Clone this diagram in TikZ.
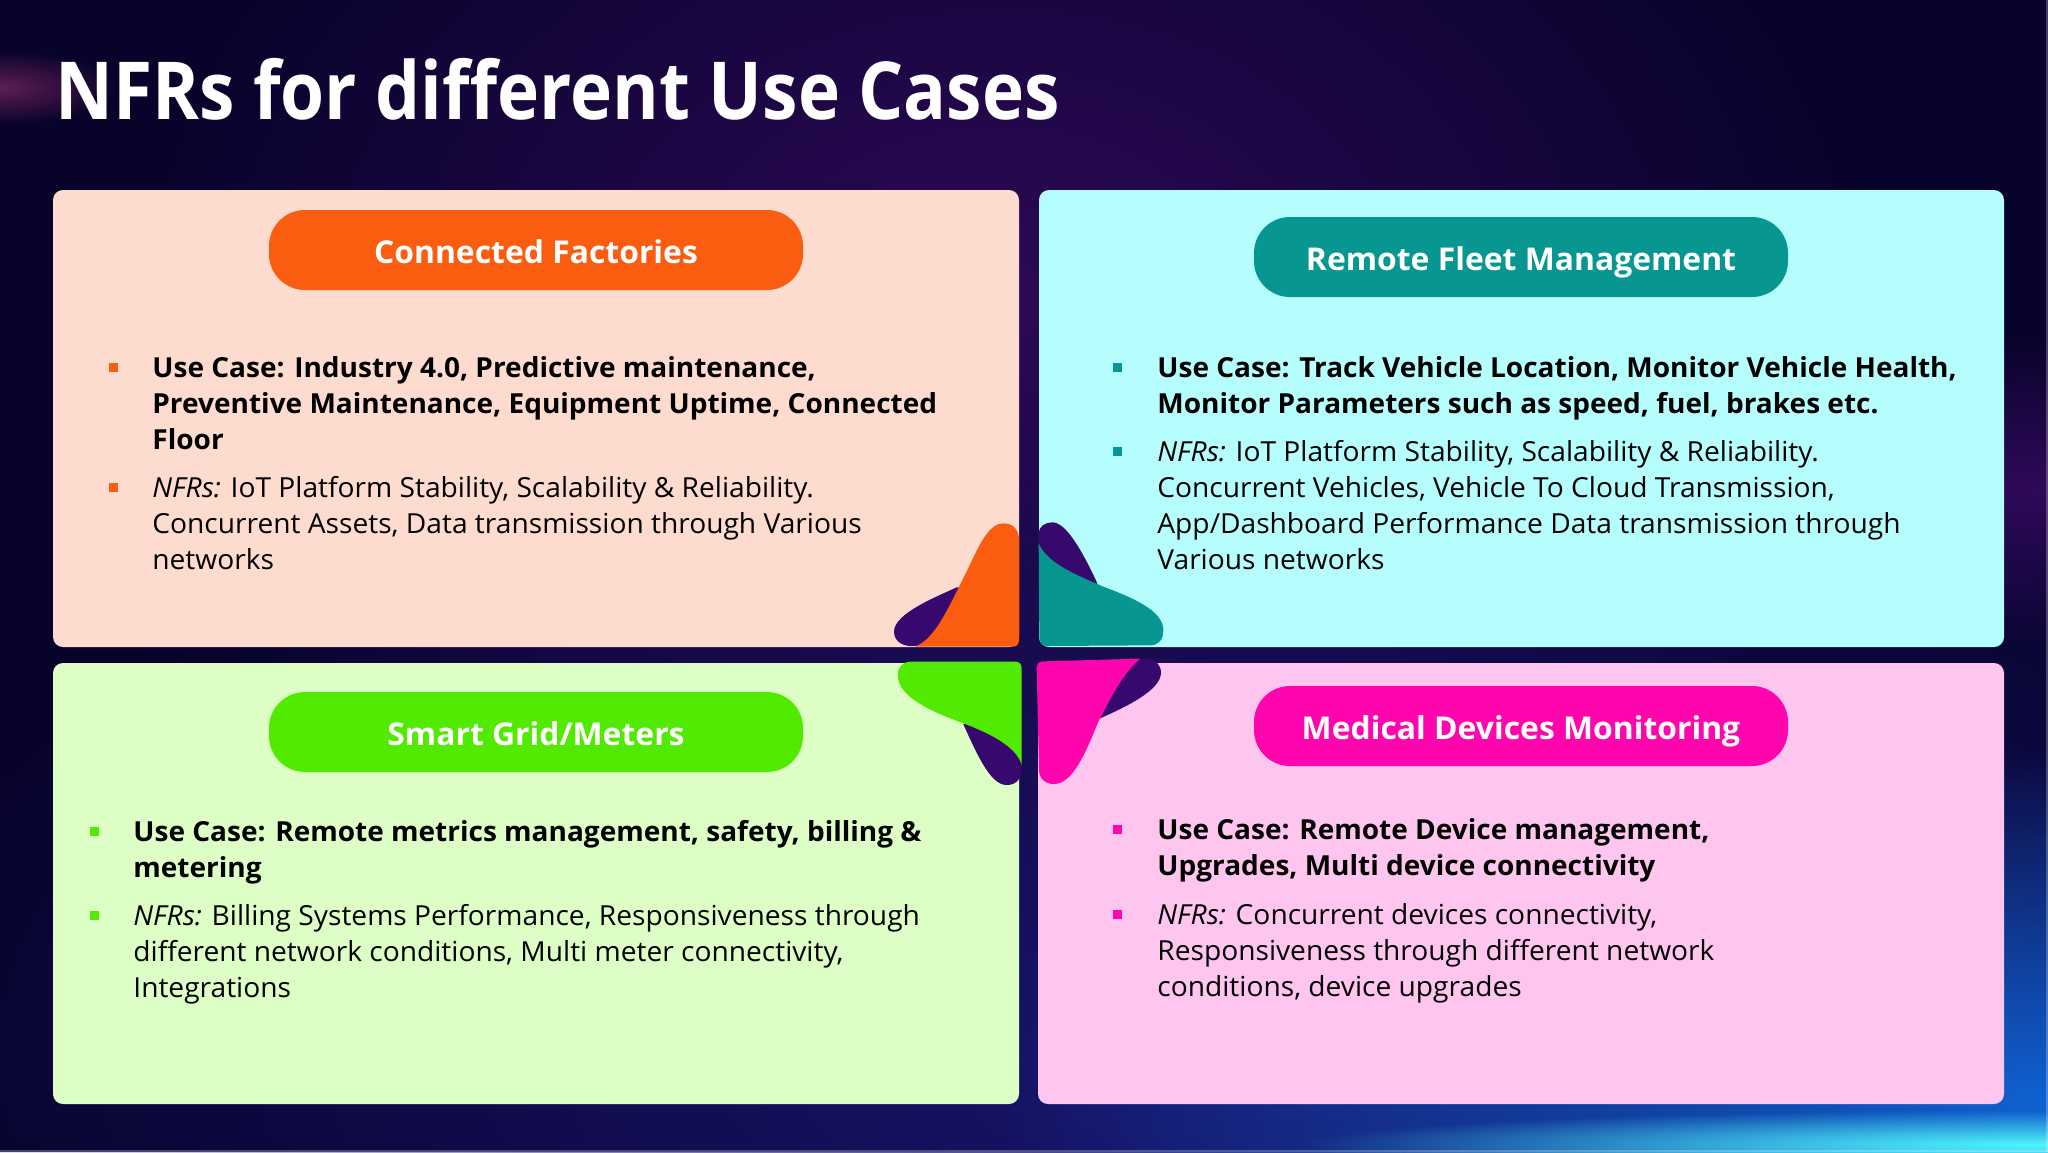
\documentclass[tikz,border=0pt]{standalone}
\usepackage{fontspec}
\usepackage{xcolor}
\usepackage{tikz}
\usetikzlibrary{fadings}
\setmainfont[FakeStretch=1.02,BoldFeatures={FakeStretch=1.015}]{Open Sans}
\newfontfamily\titlefont[FakeStretch=0.89]{Open Sans}
\definecolor{navy}{HTML}{07032A}
\definecolor{midnavy}{HTML}{1A1670}
\definecolor{lowblue}{HTML}{0F62D2}
\definecolor{glowcyan}{HTML}{50F8FF}
\definecolor{haze}{HTML}{3A0C66}
\definecolor{blob}{HTML}{37096F}
\definecolor{factory}{HTML}{FA5C10}
\definecolor{factorybg}{HTML}{FDDCCF}
\definecolor{fleet}{HTML}{089690}
\definecolor{fleetbg}{HTML}{B6FEFD}
\definecolor{grid}{HTML}{52EA00}
\definecolor{gridbg}{HTML}{DDFFC6}
\definecolor{medical}{HTML}{FF05AE}
\definecolor{medicalbg}{HTML}{FEC6EE}
\tikzfading[name=glow, inner color=transparent!0, outer color=transparent!100]
\tikzset{
  panel/.style={rectangle, anchor=north west, rounded corners=5pt, inner sep=0, outer sep=0},
  pill/.style={rectangle, rounded corners=18pt, minimum width=267pt, minimum height=40pt, inner sep=0,
    text height=13pt, text depth=0pt, text=white, font=\fontsize{15.7}{20}\selectfont\bfseries},
  dot/.style={rectangle, minimum size=4.5pt, inner sep=0},
  para/.style={anchor=north west, inner sep=0, align=left, text=black,
    font=\fontsize{13.8}{18}\selectfont}
}
\begin{document}
\begin{tikzpicture}[x=0.5pt,y=-0.5pt]
    \useasboundingbox (0,0) rectangle (2048,1152);
    % background
    \fill[navy] (0,0) rectangle (2048,1152);
    \fill[haze, path fading=glow, opacity=0.75] (100,-350) rectangle (1900,950);
    \fill[midnavy, path fading=glow] (-200,400) rectangle (2700,1700);
    \fill[haze, path fading=glow, opacity=0.8] (1500,330) rectangle (2600,650);
    \fill[lowblue, path fading=glow] (1000,750) rectangle (3100,1450);
    \fill[glowcyan, path fading=glow] (1300,1110) rectangle (2800,1180);
    \fill[magenta!70!black, path fading=glow, opacity=0.5] (-120,50) rectangle (120,125);
    \fill[white, opacity=0.25] (0,1150) rectangle (2048,1152);
    \fill[white, opacity=0.25] (2046,0) rectangle (2048,1152);
    \node[anchor=base west, inner sep=0, text=white, font=\fontsize{40}{48}\selectfont\titlefont\bfseries] (title) at (55,119.5) {NFRs for different Use Cases};
    % panels
    \node[panel, fill=factorybg, minimum width=483pt, minimum height=228.5pt] (factories) at (53,190) {};
    \node[panel, fill=fleetbg, minimum width=482.5pt, minimum height=228.5pt] (fleetbox) at (1039,190) {};
    \node[panel, fill=gridbg, minimum width=483pt, minimum height=220.5pt] (meters) at (53,663) {};
    \node[panel, fill=medicalbg, minimum width=483pt, minimum height=220.5pt] (devices) at (1038,663) {};
    % blobs
    \begin{scope}[shift={(850,490)},x=0.16667pt,y=-0.16667pt]
    \fill[blob] (320,292) .. controls (260,320) and (132,370) .. (132,425) .. controls (132,455) and (160,470) .. (190,468) -- (300,460) -- (400,300) -- cycle;
    \fill[factory] (195,470) .. controls (260,445) and (300,340) .. (350,245) .. controls (385,170) and (415,100) .. (460,100) .. controls (490,100) and (507,120) .. (507,150) -- (507,450) .. controls (507,462) and (500,470) .. (490,470) -- cycle;
    \fill[blob] (566,130) .. controls (566,110) and (585,97) .. (607,97) .. controls (650,97) and (700,190) .. (742,280) -- (700,320) -- (600,300) -- (566,170) -- cycle;
    \fill[fleet] (566,160) .. controls (590,220) and (680,255) .. (760,290) .. controls (840,320) and (940,360) .. (940,420) .. controls (940,450) and (925,466) .. (900,466) -- (590,468) .. controls (575,468) and (568,455) .. (568,440) -- cycle;
    \fill[blob] (340,703) .. controls (380,790) and (420,885) .. (470,885) .. controls (500,885) and (515,865) .. (515,835) -- (515,820) -- (500,700) -- (400,680) -- cycle;
    \fill[grid] (143,555) .. controls (143,530) and (160,515) .. (180,515) -- (495,515) .. controls (508,515) and (515,522) .. (515,535) -- (515,825) .. controls (500,770) and (420,730) .. (340,700) .. controls (260,670) and (143,625) .. (143,555) -- cycle;
    \fill[blob] (870,506) -- (890,505) .. controls (915,505) and (933,525) .. (933,548) .. controls (933,600) and (830,650) .. (750,685) -- (700,600) -- (780,515) -- cycle;
    \fill[medical] (560,535) .. controls (560,522) and (567,514) .. (580,514) -- (870,506) .. controls (810,560) and (780,630) .. (745,695) .. controls (710,780) and (670,882) .. (612,882) .. controls (585,882) and (567,865) .. (567,840) -- cycle;
    \end{scope}
    % pills
    \node[pill, fill=factory] (factorypill) at (536,250) {Connected Factories};
    \node[pill, fill=fleet] (fleetpill) at (1521,257) {Remote Fleet Management};
    \node[pill, fill=grid] (gridpill) at (536,732) {Smart Grid/Meters};
    \node[pill, fill=medical] (medicalpill) at (1521,726) {Medical Devices Monitoring};
    % top left text
    \node[dot, fill=factory] (d1) at (113,367) {};
    \node[para] (t1) at (152,352) {\strut\textbf{Use Case: Industry 4.0, Predictive maintenance,}\\\textbf{Preventive Maintenance, Equipment Uptime, Connected}\\\textbf{Floor}};
    \node[dot, fill=factory] (d2) at (113,487) {};
    \node[para] (t2) at (152,472) {\strut\textit{NFRs:} IoT Platform Stability, Scalability \& Reliability.\\Concurrent Assets, Data transmission through Various\\networks};
    % top right text
    \node[dot, fill=fleet] (d3) at (1117,367) {};
    \node[para] (t3) at (1157,352) {\strut\textbf{Use Case: Track Vehicle Location, Monitor Vehicle Health,}\\\textbf{Monitor Parameters such as speed, fuel, brakes etc.}};
    \node[dot, fill=fleet] (d4) at (1117,451) {};
    \node[para] (t4) at (1157,436) {\strut\textit{NFRs:} IoT Platform Stability, Scalability \& Reliability.\\Concurrent Vehicles, Vehicle To Cloud Transmission,\\App/Dashboard Performance Data transmission through\\Various networks};
    % bottom left text
    \node[dot, fill=grid] (d5) at (94,831) {};
    \node[para] (t5) at (133,816) {\strut\textbf{Use Case: Remote metrics management, safety, billing \&}\\\textbf{metering}};
    \node[dot, fill=grid] (d6) at (94,915) {};
    \node[para] (t6) at (133,900) {\strut\textit{NFRs:} Billing Systems Performance, Responsiveness through\\different network conditions, Multi meter connectivity,\\Integrations};
    % bottom right text
    \node[dot, fill=medical] (d7) at (1117,829) {};
    \node[para] (t7) at (1157,814) {\strut\textbf{Use Case: Remote Device management,}\\\textbf{Upgrades, Multi device connectivity}};
    \node[dot, fill=medical] (d8) at (1117,914) {};
    \node[para] (t8) at (1157,899) {\strut\textit{NFRs:} Concurrent devices connectivity,\\Responsiveness through different network\\conditions, device upgrades};
\end{tikzpicture}
\end{document}
